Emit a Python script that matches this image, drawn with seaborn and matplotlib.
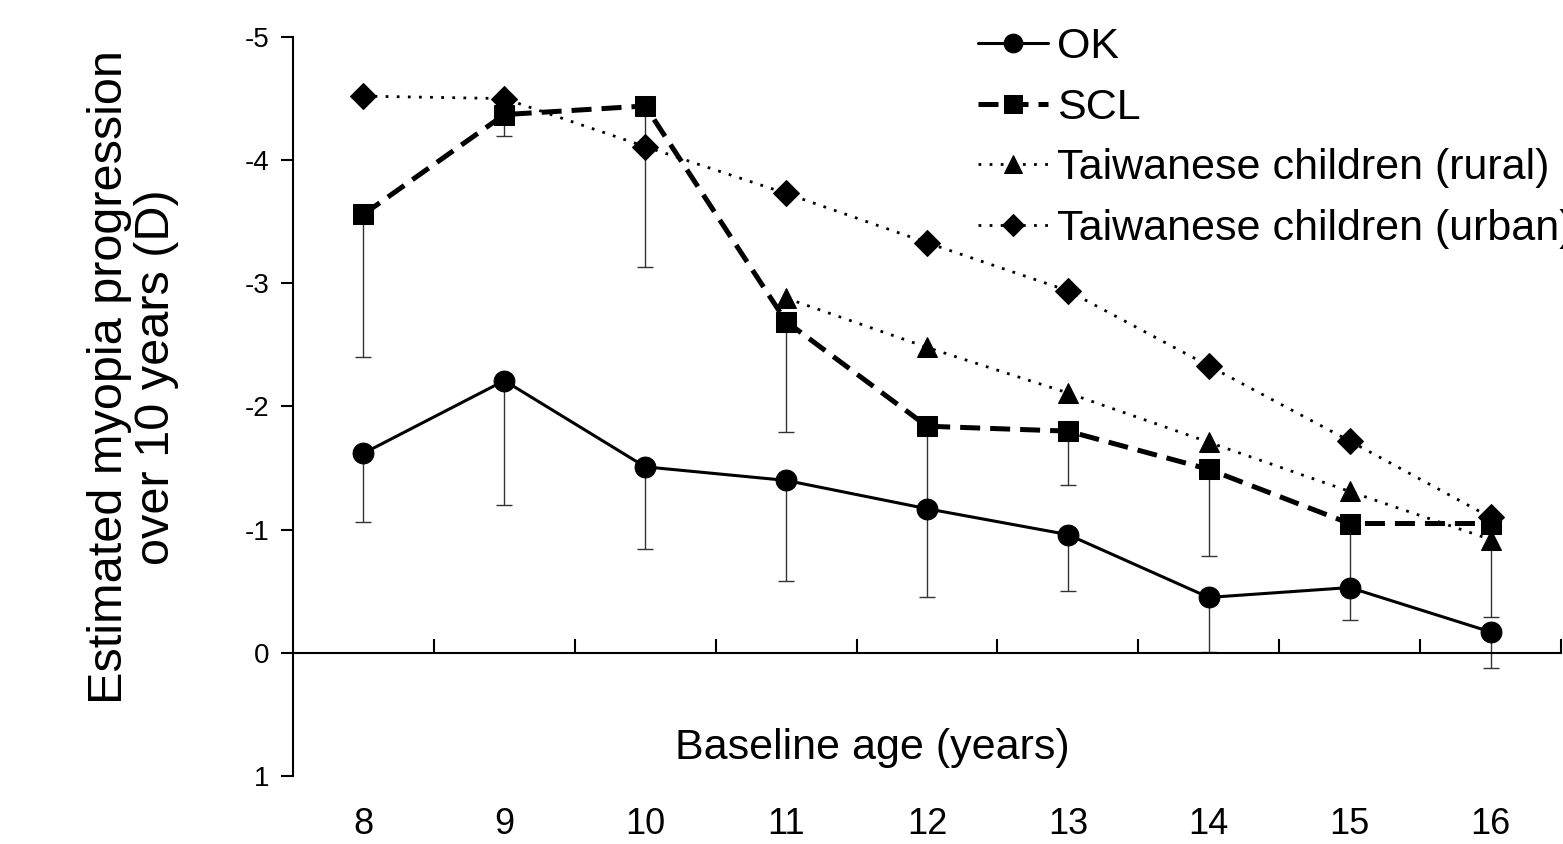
import numpy as np
import seaborn as sns
import matplotlib.pyplot as plt
import pandas as pd

ages = [8, 9, 10, 11, 12, 13, 14, 15, 16]

ok = [-1.62, -2.21, -1.51, -1.40, -1.17, -0.96, -0.45, -0.53, -0.17]
ok_err = [0.56, 1.01, 0.67, 0.82, 0.72, 0.46, 0.44, 0.26, 0.29]

scl = [-3.56, -4.37, -4.44, -2.69, -1.84, -1.80, -1.49, -1.05, -1.05]
scl_err = [1.16, 0.17, 1.31, 0.90, 0.65, 0.44, 0.70, 0.50, 0.76]

rural_ages = [11, 12, 13, 14, 15, 16]
rural = [-2.88, -2.48, -2.11, -1.71, -1.31, -0.92]

urban = [-4.52, -4.50, -4.11, -3.73, -3.33, -2.94, -2.33, -1.72, -1.10]

sns.set_style('white')
plt.rcParams['font.family'] = ['Liberation Sans', 'DejaVu Sans']
plt.rcParams['text.color'] = 'black'
plt.rcParams['axes.labelcolor'] = 'black'
plt.rcParams['xtick.color'] = 'black'
plt.rcParams['ytick.color'] = 'black'

fig = plt.figure(figsize=(15.63, 8.44), dpi=100)
ax = fig.add_axes([293 / 1563, 1 - 776 / 844, 1268 / 1563, 739 / 844])

# category positions
pos = {a: i for i, a in enumerate(ages)}
df_ok = pd.DataFrame({'x': [pos[a] for a in ages], 'y': ok})
df_scl = pd.DataFrame({'x': [pos[a] for a in ages], 'y': scl})
df_rural = pd.DataFrame({'x': [pos[a] for a in rural_ages], 'y': rural})
df_urban = pd.DataFrame({'x': [pos[a] for a in ages], 'y': urban})

# error bars (one-sided, towards zero)
ax.errorbar(df_ok['x'], df_ok['y'], yerr=[np.zeros(len(ok)), ok_err], fmt='none',
            ecolor='#333333', elinewidth=1, capsize=6, capthick=1, zorder=1)
ax.errorbar(df_scl['x'], df_scl['y'], yerr=[np.zeros(len(scl)), scl_err], fmt='none',
            ecolor='#333333', elinewidth=1, capsize=6, capthick=1, zorder=1)

sns.lineplot(data=df_urban, x='x', y='y', ax=ax, color='black', marker='D', markersize=13,
             linestyle=(0, (1, 3)), linewidth=2, markeredgecolor='black',
             label='Taiwanese children (urban)', zorder=2)
sns.lineplot(data=df_rural, x='x', y='y', ax=ax, color='black', marker='^', markersize=15,
             linestyle=(0, (1, 3)), linewidth=2, markeredgecolor='black',
             label='Taiwanese children (rural)', zorder=2)
sns.lineplot(data=df_scl, x='x', y='y', ax=ax, color='black', marker='s', markersize=14,
             linestyle=(0, (4, 2)), linewidth=3.6, markeredgecolor='black',
             label='SCL', zorder=3)
sns.lineplot(data=df_ok, x='x', y='y', ax=ax, color='black', marker='o', markersize=15,
             linestyle='-', linewidth=2.2, markeredgecolor='black',
             label='OK', zorder=3)

ax.set_xlim(-0.5, len(ages) - 0.5)
ax.set_ylim(1, -5)
ax.set_yticks([-5, -4, -3, -2, -1, 0, 1])
ax.set_yticklabels(['-5', '-4', '-3', '-2', '-1', '0', '1'])
ax.tick_params(axis='y', direction='out', length=9, width=1.5, labelsize=20, left=True, pad=8)

ax.spines['top'].set_visible(False)
ax.spines['right'].set_visible(False)
ax.spines['bottom'].set_position(('data', 0))
for s in ['left', 'bottom']:
    ax.spines[s].set_linewidth(1.5)
    ax.spines[s].set_color('black')

ax.set_xticks(np.arange(len(ages)) + 0.5)
ax.set_xticklabels([])
ax.tick_params(axis='x', direction='in', length=10, width=1.5, bottom=True)
for i, a in enumerate(ages):
    ax.text(i, -0.065, str(a), transform=ax.get_xaxis_transform(),
            ha='center', va='center', fontsize=26)

ax.set_xlabel('')
ax.text(0.457, 0.038, 'Baseline age (years)', transform=ax.transAxes,
        ha='center', va='center', fontsize=31)
ax.set_ylabel('Estimated myopia progression\nover 10 years (D)', fontsize=35, linespacing=1.05)
ax.yaxis.set_label_coords(-0.09, 0.54)

handles, labels = ax.get_legend_handles_labels()
order = ['OK', 'SCL', 'Taiwanese children (rural)', 'Taiwanese children (urban)']
hmap = dict(zip(labels, handles))
ax.legend([hmap[k] for k in order], order, loc='upper left',
          bbox_to_anchor=(978 / 1563, 1 - 27 / 844), bbox_transform=fig.transFigure,
          frameon=False, fontsize=31, handlelength=1.63, handletextpad=0.2,
          labelspacing=0.48, borderpad=0, borderaxespad=0, markerscale=0.9)

fig.savefig('out.png', dpi=100)
